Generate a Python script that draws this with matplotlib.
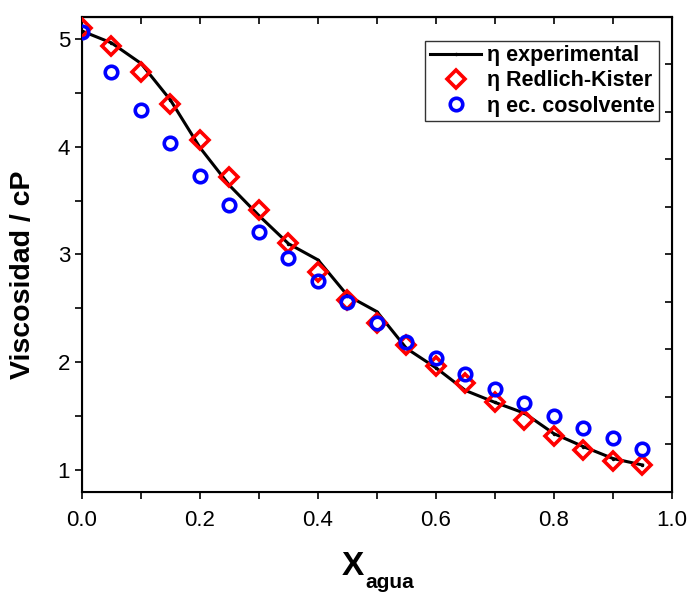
import numpy as np
import matplotlib
matplotlib.use("Agg")
import matplotlib.pyplot as plt
from matplotlib.ticker import MultipleLocator

plt.rcParams['font.family'] = ['Liberation Sans', 'DejaVu Sans']

x_agua = [0.00, 0.05, 0.10, 0.15, 0.20, 0.25, 0.30, 0.35, 0.40, 0.45,
          0.50, 0.55, 0.60, 0.65, 0.70, 0.75, 0.80, 0.85, 0.90, 0.95]
eta_exp = [5.07, 4.96, 4.77, 4.43, 3.99, 3.64, 3.36, 3.10, 2.95, 2.62,
           2.47, 2.13, 1.95, 1.74, 1.63, 1.53, 1.34, 1.22, 1.11, 1.05]
eta_rk = [5.10, 4.93, 4.69, 4.39, 4.06, 3.72, 3.41, 3.11, 2.84, 2.58,
          2.37, 2.16, 1.97, 1.81, 1.63, 1.47, 1.32, 1.19, 1.09, 1.05]
eta_cos = [5.06, 4.69, 4.34, 4.03, 3.73, 3.46, 3.21, 2.97, 2.75, 2.56,
           2.37, 2.19, 2.04, 1.89, 1.75, 1.62, 1.50, 1.39, 1.30, 1.20]

fig = plt.figure(figsize=(6.9, 5.96), dpi=100)
ax = fig.add_axes([0.1188, 0.1745, 0.8551, 0.797])

ax.plot(x_agua, eta_exp, color='black', lw=2.2, marker='o', ms=1.5,
        label=u'\u03b7 experimental', zorder=2)
ax.plot(x_agua, eta_rk, ls='none', marker='D', ms=9.5, mfc='none', mec='red',
        mew=2.6, label=u'\u03b7 Redlich-Kister', zorder=3)
ax.plot(x_agua, eta_cos, ls='none', marker='o', ms=9, mfc='none', mec='blue',
        mew=2.6, label=u'\u03b7 ec. cosolvente', zorder=4)

ax.set_xlim(0, 1.0)
ax.set_ylim(0.8, 5.2)
ax.xaxis.set_major_locator(MultipleLocator(0.2))
ax.xaxis.set_minor_locator(MultipleLocator(0.1))
ax.yaxis.set_major_locator(MultipleLocator(1))
ax.yaxis.set_minor_locator(MultipleLocator(0.5))
ax.xaxis.set_major_formatter(plt.FormatStrFormatter('%.1f'))
ax.tick_params(which='both', direction='out', length=5, width=1.2,
               labelsize=16, top=False, right=False)
ax.tick_params(axis='x', pad=8)
for s in ax.spines.values():
    s.set_linewidth(1.5)

# mirrored axes, ticks pointing inward
top = ax.secondary_xaxis('top')
top.set_xticks(np.arange(0, 1.01, 0.1))
top.tick_params(direction='in', length=5, width=1.2, labeltop=False)
top.spines['top'].set_linewidth(1.5)
right = ax.twinx()
right.set_ylim(0, 1)
right.set_yticks(np.arange(0, 1.01, 0.1))
right.tick_params(direction='in', length=5, width=1.2, labelright=False)
right.set_zorder(ax.get_zorder() - 1)
ax.patch.set_visible(False)

ax.set_ylabel('Viscosidad / cP', fontsize=20.5, fontweight='bold')
ax.yaxis.set_label_coords(-0.078, 0.457)
fig.text(0.511, 0.035, 'X', fontsize=24, fontweight='bold', ha='center', va='baseline')
fig.text(0.529, 0.013, 'agua', fontsize=15, fontweight='bold', ha='left', va='baseline')

leg = ax.legend(loc='upper right', bbox_to_anchor=(0.978, 0.95),
                prop={'weight': 'bold', 'size': 15.5}, frameon=True, fancybox=False,
                edgecolor='black', handlelength=2.4, handletextpad=0.25,
                borderpad=0.2, labelspacing=0.2, borderaxespad=0)
leg.get_frame().set_linewidth(1.0)

fig.savefig('out.png', dpi=100)
